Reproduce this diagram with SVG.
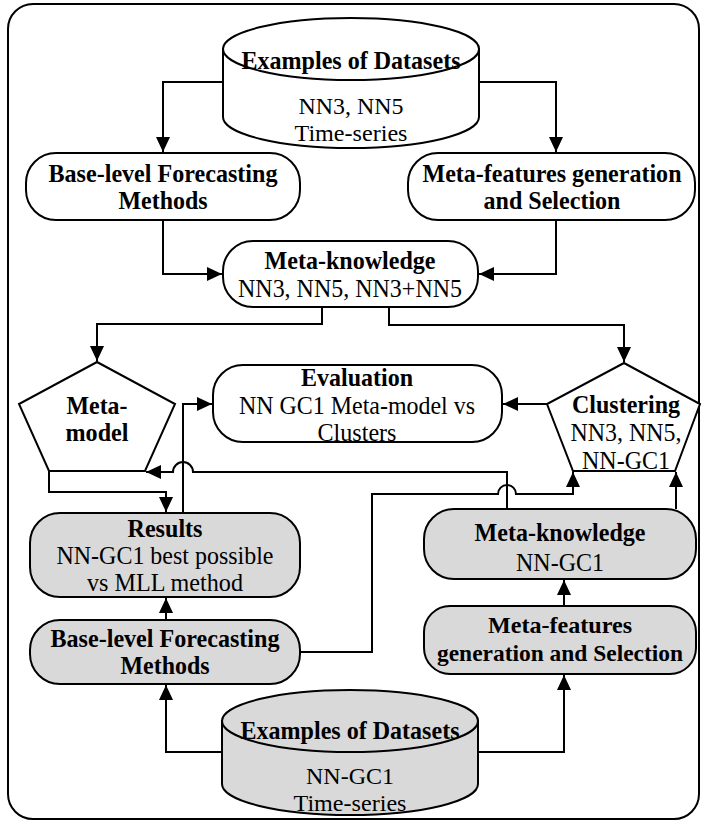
<svg xmlns="http://www.w3.org/2000/svg" width="705" height="825" viewBox="0 0 705 825">
<style>
.n{fill:#fff;stroke:#000;stroke-width:2}
.g{fill:#d9d9d9;stroke:#000;stroke-width:2}
.c{fill:none;stroke:#000;stroke-width:2}
text{font-family:"Liberation Serif","Times New Roman",serif;font-size:26px;text-anchor:middle;fill:#000}
.b{font-weight:bold}
.s{font-size:24px}
</style>
<defs>
<marker id="ar" markerUnits="userSpaceOnUse" markerWidth="16" markerHeight="14" refX="15" refY="7" orient="auto">
<path d="M0,0 L15,7 L0,14 Z" fill="#000"/>
</marker>
</defs>
<rect x="8" y="4" width="691" height="815" rx="25" fill="#fff" stroke="#000" stroke-width="2"/>
<g id="connectors">
<path class="c" d="M223,82 H163 V152" marker-end="url(#ar)"/>
<path class="c" d="M479,82 H556 V152" marker-end="url(#ar)"/>
<path class="c" d="M163,220 V274 H222" marker-end="url(#ar)"/>
<path class="c" d="M556,220 V274 H479" marker-end="url(#ar)"/>
<path class="c" d="M322,307 V324 H97 V361" marker-end="url(#ar)"/>
<path class="c" d="M389,307 V325 H624 V362" marker-end="url(#ar)"/>
<path class="c" d="M547,404 H503" marker-end="url(#ar)"/>
<path class="c" d="M183,513 V404 H212" marker-end="url(#ar)"/>
<path class="c" d="M49,471 V492 H166 V512" marker-end="url(#ar)"/>
<path class="c" d="M507,509 V472 H193 A10,10 0 0 0 173,472 H146" marker-end="url(#ar)"/>
<path class="c" d="M300,652 H372 V494 H498 A9,9 0 0 1 516,494 H573 V472" marker-end="url(#ar)"/>
<path class="c" d="M676,509 V472" marker-end="url(#ar)"/>
<path class="c" d="M166,620 V598" marker-end="url(#ar)"/>
<path class="c" d="M222,752 H166 V685" marker-end="url(#ar)"/>
<path class="c" d="M478,752 H564 V675" marker-end="url(#ar)"/>
<path class="c" d="M564,606 V580" marker-end="url(#ar)"/>
</g>
<g id="datasets-top">
<path class="n" d="M223,49 V117 A128,31 0 0 0 479,117 V49 Z"/>
<ellipse class="n" cx="351" cy="49" rx="128" ry="31"/>
<text class="b" x="351" y="69" textLength="219" lengthAdjust="spacingAndGlyphs">Examples of Datasets</text>
<text class="s" x="351" y="114" textLength="105" lengthAdjust="spacingAndGlyphs">NN3, NN5</text>
<text class="s" x="351" y="141" textLength="113" lengthAdjust="spacingAndGlyphs">Time-series</text>
</g>
<g id="base-level-top">
<rect class="n" x="26" y="153" width="274" height="67" rx="30"/>
<text class="b" x="163" y="182" textLength="229" lengthAdjust="spacingAndGlyphs">Base-level Forecasting</text>
<text class="b" x="163" y="209" textLength="89" lengthAdjust="spacingAndGlyphs">Methods</text>
</g>
<g id="meta-features-top">
<rect class="n" x="408" y="153" width="287" height="67" rx="30"/>
<text class="b" x="552" y="182" textLength="259" lengthAdjust="spacingAndGlyphs">Meta-features generation</text>
<text class="b" x="552" y="209" textLength="137" lengthAdjust="spacingAndGlyphs">and Selection</text>
</g>
<g id="meta-knowledge-top">
<rect class="n" x="223" y="241" width="255" height="66" rx="30"/>
<text class="b" x="350" y="269" textLength="171" lengthAdjust="spacingAndGlyphs">Meta-knowledge</text>
<text x="350" y="297" textLength="224" lengthAdjust="spacingAndGlyphs">NN3, NN5, NN3+NN5</text>
</g>
<g id="meta-model">
<path class="n" d="M97,362 L175,404 L145,471 L49,471 L19,404 Z"/>
<text class="b" x="97" y="414" textLength="61" lengthAdjust="spacingAndGlyphs">Meta-</text>
<text class="b" x="97" y="441" textLength="63" lengthAdjust="spacingAndGlyphs">model</text>
</g>
<g id="evaluation">
<rect class="n" x="213" y="365" width="289" height="77" rx="30"/>
<text class="b" x="357" y="386" textLength="112" lengthAdjust="spacingAndGlyphs">Evaluation</text>
<text x="357" y="414" textLength="236" lengthAdjust="spacingAndGlyphs">NN GC1 Meta-model vs</text>
<text x="357" y="441" textLength="79" lengthAdjust="spacingAndGlyphs">Clusters</text>
</g>
<g id="clustering">
<path class="n" d="M624,363 L700,404 L675,471 L573,471 L547,404 Z"/>
<text class="b" x="626" y="413" textLength="108" lengthAdjust="spacingAndGlyphs">Clustering</text>
<text x="626" y="441" textLength="111" lengthAdjust="spacingAndGlyphs">NN3, NN5,</text>
<text x="626" y="469" textLength="88" lengthAdjust="spacingAndGlyphs">NN-GC1</text>
</g>
<g id="results">
<rect class="g" x="30" y="513" width="270" height="84" rx="30"/>
<text class="b" x="165" y="537" textLength="75" lengthAdjust="spacingAndGlyphs">Results</text>
<text x="165" y="564" textLength="217" lengthAdjust="spacingAndGlyphs">NN-GC1 best possible</text>
<text x="165" y="591" textLength="156" lengthAdjust="spacingAndGlyphs">vs MLL method</text>
</g>
<g id="meta-knowledge-bottom">
<rect class="g" x="424" y="509" width="272" height="70" rx="30"/>
<text class="b" x="560" y="541" textLength="171" lengthAdjust="spacingAndGlyphs">Meta-knowledge</text>
<text x="560" y="571" textLength="88" lengthAdjust="spacingAndGlyphs">NN-GC1</text>
</g>
<g id="base-level-bottom">
<rect class="g" x="30" y="620" width="270" height="64" rx="30"/>
<text class="b" x="165" y="647" textLength="229" lengthAdjust="spacingAndGlyphs">Base-level Forecasting</text>
<text class="b" x="165" y="674" textLength="89" lengthAdjust="spacingAndGlyphs">Methods</text>
</g>
<g id="meta-features-bottom">
<rect class="g" x="424" y="606" width="272" height="68" rx="26"/>
<text class="b s" x="560" y="633" textLength="144" lengthAdjust="spacingAndGlyphs">Meta-features</text>
<text class="b s" x="560" y="661" textLength="246" lengthAdjust="spacingAndGlyphs">generation and Selection</text>
</g>
<g id="datasets-bottom">
<path class="g" d="M222,721 V784 A128,31 0 0 0 478,784 V721 Z"/>
<ellipse class="g" cx="350" cy="721" rx="128" ry="31"/>
<text class="b" x="350" y="739" textLength="219" lengthAdjust="spacingAndGlyphs">Examples of Datasets</text>
<text class="s" x="350" y="784" textLength="88" lengthAdjust="spacingAndGlyphs">NN-GC1</text>
<text class="s" x="350" y="811" textLength="113" lengthAdjust="spacingAndGlyphs">Time-series</text>
</g>
</svg>
